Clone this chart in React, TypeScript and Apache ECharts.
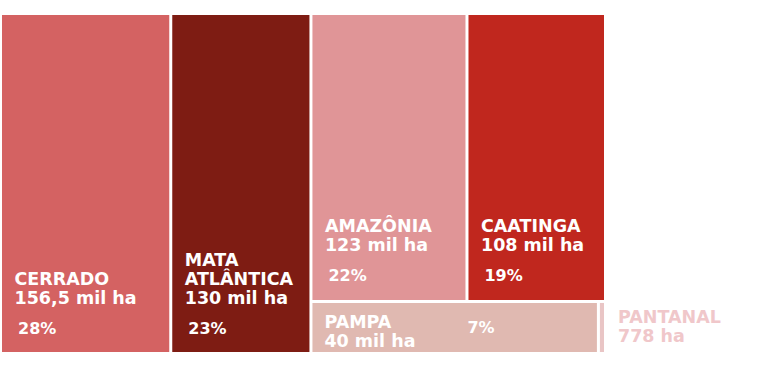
import React, { useEffect, useRef } from "react";
import * as echarts from "echarts";

const names = ["CERRADO", "MATA\nATLÂNTICA", "AMAZÔNIA", "CAATINGA", "PAMPA", "PANTANAL"];
const values = [156.5, 130, 123, 108, 40, 0.778]; // mil ha
const valueLabels = ["156,5 mil ha", "130 mil ha", "123 mil ha", "108 mil ha", "40 mil ha", "778 ha"];
const percentLabels = ["28%", "23%", "22%", "19%", "7%", ""];
const colors = ["#D46262", "#7E1C13", "#E09597", "#C0271E", "#E0B9B1", "#E9C5C5"];
// structure: columns -> rows -> biome indices
const layoutColumns = [[[0]], [[1]], [[2, 3], [4, 5]]];

function computeRects() {
  const total = values.reduce((a, b) => a + b, 0);
  const rects: number[][] = [];
  let x = 0;
  layoutColumns.forEach((col) => {
    const colSum = col.flat().reduce((a, i) => a + values[i], 0);
    const w = colSum;
    let y = 0;
    col.forEach((row) => {
      const rowSum = row.reduce((a, i) => a + values[i], 0);
      const h = rowSum / colSum;
      let cx = x;
      row.forEach((i) => {
        const cw = (values[i] / rowSum) * w;
        rects[i] = [cx, cx + cw, y, y + h, i];
        cx += cw;
      });
      y += h;
    });
    x += w;
  });
  return { rects, total };
}

export default function App() {
  const ref = useRef<HTMLDivElement>(null);
  useEffect(() => {
    if (!ref.current) return;
    const chart = echarts.init(ref.current, null, { renderer: "svg" });
    const { rects, total } = computeRects();
    const gap = 3;
    const font = "'DejaVu Sans', sans-serif";
    const nameFont = `bold 17.5px ${font}`;
    const pctFont = `600 16px ${font}`;
    chart.setOption({
      animation: false,
      grid: { left: 2, right: 157, top: 15, bottom: 18 },
      xAxis: { type: "value", min: 0, max: total, show: false },
      yAxis: { type: "value", min: 0, max: 1, inverse: true, show: false },
      series: [
        {
          type: "custom",
          data: rects,
          renderItem: (params: any, api: any) => {
            const x0 = api.value(0), x1 = api.value(1), y0 = api.value(2), y1 = api.value(3);
            const i = api.value(4);
            const p0 = api.coord([x0, y0]);
            const p1 = api.coord([x1, y1]);
            let left = p0[0] + (x0 > 0 ? gap / 2 : 0);
            const right = p1[0] - (x1 < total - 1e-6 ? gap / 2 : 0);
            const top = p0[1] + (y0 > 0 ? gap / 2 : 0);
            const bottom = p1[1] - (y1 < 1 - 1e-6 ? gap / 2 : 0);
            let width = right - left;
            if (width < 2.5) {
              width = 2.5;
              left = right - 1 - width;
            }
            const height = bottom - top;
            const children: any[] = [
              {
                type: "rect",
                shape: { x: left, y: top, width, height },
                style: { fill: colors[i] },
              },
            ];
            const label = names[i] + "\n" + valueLabels[i];
            if (width < 20) {
              children.push({
                type: "text",
                style: {
                  x: right + 14,
                  y: top + 5,
                  text: label,
                  fill: "#F0C7CA",
                  font: nameFont,
                  lineHeight: 19,
                  verticalAlign: "top",
                  align: "left",
                },
              });
            } else if (height < 80) {
              children.push({
                type: "text",
                style: {
                  x: left + 12,
                  y: top + 10,
                  text: label,
                  fill: "#ffffff",
                  font: nameFont,
                  lineHeight: 19,
                  verticalAlign: "top",
                  align: "left",
                },
              });
              children.push({
                type: "text",
                style: {
                  x: left + width * 0.545,
                  y: top + 25,
                  text: percentLabels[i],
                  fill: "#ffffff",
                  font: pctFont,
                  verticalAlign: "middle",
                  align: "left",
                },
              });
            } else {
              children.push({
                type: "text",
                style: {
                  x: left + 12.5,
                  y: bottom - 45,
                  text: label,
                  fill: "#ffffff",
                  font: nameFont,
                  lineHeight: 19,
                  verticalAlign: "bottom",
                  align: "left",
                },
              });
              children.push({
                type: "text",
                style: {
                  x: left + 16,
                  y: bottom - 24,
                  text: percentLabels[i],
                  fill: "#ffffff",
                  font: pctFont,
                  verticalAlign: "middle",
                  align: "left",
                },
              });
            }
            return { type: "group", children };
          },
        },
      ],
    });
    return () => chart.dispose();
  }, []);
  return (
    <div
      ref={ref}
      style={{ position: "fixed", left: 0, top: 0, width: 761, height: 370, background: "#ffffff" }}
    />
  );
}
